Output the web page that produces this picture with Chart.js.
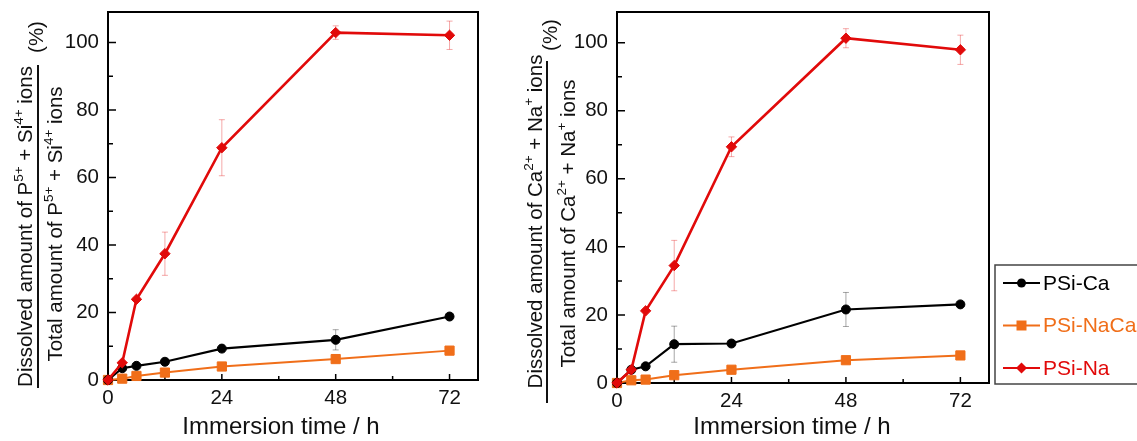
<!DOCTYPE html>
<html>
<head>
<meta charset="utf-8">
<script src="https://cdn.jsdelivr.net/npm/chart.js@4.4.1/dist/chart.umd.min.js"></script>
<style>
  body { margin: 0; background: #fff; width: 1137px; height: 441px; overflow: hidden; position: relative; }
  canvas { position: absolute; top: 0; }
  #leftChart { left: 0; }
  #rightChart { left: 500px; }
</style>
</head>
<body>
<canvas id="leftChart" width="520" height="441"></canvas>
<canvas id="rightChart" width="637" height="441"></canvas>
<script>
const FONT = '"Liberation Sans", Arial, Helvetica, sans-serif';

// sampling times (h) and axis ticks
const hours = [0, 3, 6, 12, 24, 48, 72];
const xTicks = [0, 24, 48, 72];
const xMinorTicks = [12, 36, 60];
const yTicks = [0, 20, 40, 60, 80, 100];
const yMinorTicks = [10, 30, 50, 70, 90];
const seriesNames = ['PSi-Ca', 'PSi-NaCa', 'PSi-Na'];

// dissolved P5+ + Si4+ (% of total)
const pSiCa = [0, 3.5, 4.2, 5.4, 9.3, 11.9, 18.8];
const pSiNaCa = [0, 0.4, 1.2, 2.2, 4.0, 6.2, 8.7];
const pSiNa = [0, 5.1, 23.9, 37.4, 68.8, 102.9, 102.1];
const pSiCaErr = [0, 0, 0, 0, 0, 3.0, 0];
const pSiNaCaErr = [0, 0, 0, 0, 0, 0, 0];
const pSiNaErr = [0, 0, 0, 6.4, 8.3, 2.0, 4.2];

// dissolved Ca2+ + Na+ (% of total)
const caNaCa = [0, 3.9, 4.9, 11.4, 11.6, 21.6, 23.1];
const caNaNaCa = [0, 0.8, 1.0, 2.3, 3.9, 6.7, 8.1];
const caNaNa = [0, 3.9, 21.2, 34.5, 69.4, 101.3, 97.9];
const caNaCaErr = [0, 0, 0, 5.3, 0, 5.0, 0];
const caNaNaCaErr = [0, 0, 0, 0, 0, 0, 0];
const caNaNaErr = [0, 0, 0, 7.4, 2.9, 2.8, 4.3];

const BLACK = '#000000';
const ORANGE = '#f06e19';
const RED = '#e10a0a';

function series(label, values, errors, color, errColor, style, radius, width, order) {
    return {
        label: label,
        data: hours.map((h, i) => ({ x: h, y: values[i] })),
        errors: errors,
        errorColor: errColor,
        borderColor: color,
        backgroundColor: color,
        borderWidth: width,
        pointStyle: style,
        pointRadius: radius,
        pointHoverRadius: radius,
        pointBorderWidth: 1,
        tension: 0,
        clip: false,
        order: order
    };
}

function panelData(ca, naca, na, caErr, nacaErr, naErr) {
    return [
        series(seriesNames[0], ca, caErr, BLACK, 'rgba(0,0,0,0.35)', 'circle', 4.5, 2.2, 1),
        series(seriesNames[1], naca, nacaErr, ORANGE, 'rgba(240,110,25,0.35)', 'rect', 6.5, 2, 2),
        series(seriesNames[2], na, naErr, RED, 'rgba(225,10,10,0.35)', 'rectRot', 5.2, 2.6, 0)
    ];
}

// rotated label made of normal and superscript runs
function drawRotated(ctx, parts, cx, cy, size) {
    ctx.save();
    ctx.translate(cx, cy);
    ctx.rotate(-Math.PI / 2);
    ctx.fillStyle = '#111';
    ctx.textBaseline = 'alphabetic';
    ctx.textAlign = 'left';
    const main = size + 'px ' + FONT;
    const sup = (size * 0.66) + 'px ' + FONT;
    let w = 0;
    parts.forEach(p => { ctx.font = p.sup ? sup : main; w += ctx.measureText(p.t).width; });
    let x = -w / 2;
    parts.forEach(p => {
        ctx.font = p.sup ? sup : main;
        ctx.fillText(p.t, x, p.sup ? -0.08 * size : 0.36 * size);
        x += ctx.measureText(p.t).width;
    });
    ctx.restore();
}

function drawMarker(ctx, style, x, y, r) {
    ctx.beginPath();
    if (style === 'circle') {
        ctx.arc(x, y, r, 0, Math.PI * 2);
    } else if (style === 'rect') {
        ctx.rect(x - r, y - r, 2 * r, 2 * r);
    } else {
        ctx.moveTo(x, y - r); ctx.lineTo(x + r, y); ctx.lineTo(x, y + r); ctx.lineTo(x - r, y);
        ctx.closePath();
    }
    ctx.fill();
}

// box around the plot and inward tick marks
const frameTicks = {
    id: 'frameTicks',
    beforeDatasetsDraw(chart) {
        const { ctx, chartArea: a, scales: { x, y } } = chart;
        ctx.save();
        ctx.strokeStyle = '#000';
        ctx.lineWidth = 2;
        ctx.strokeRect(a.left, a.top, a.right - a.left, a.bottom - a.top);
        ctx.lineWidth = 1.5;
        ctx.beginPath();
        yTicks.forEach(v => { const p = y.getPixelForValue(v); ctx.moveTo(a.left, p); ctx.lineTo(a.left + 8, p); });
        yMinorTicks.forEach(v => { const p = y.getPixelForValue(v); ctx.moveTo(a.left, p); ctx.lineTo(a.left + 5, p); });
        xTicks.forEach(v => { const p = x.getPixelForValue(v); ctx.moveTo(p, a.bottom); ctx.lineTo(p, a.bottom - 6); });
        xMinorTicks.forEach(v => { const p = x.getPixelForValue(v); ctx.moveTo(p, a.bottom); ctx.lineTo(p, a.bottom - 4); });
        ctx.stroke();
        ctx.restore();
    }
};

const errorBars = {
    id: 'errorBars',
    beforeDatasetsDraw(chart) {
        const { ctx, scales: { x, y } } = chart;
        chart.data.datasets.forEach(ds => {
            ctx.save();
            ctx.strokeStyle = ds.errorColor;
            ctx.lineWidth = 1;
            ds.data.forEach((p, i) => {
                const e = ds.errors[i];
                if (!e) return;
                const px = x.getPixelForValue(p.x);
                const top = y.getPixelForValue(p.y + e);
                const bot = y.getPixelForValue(p.y - e);
                ctx.beginPath();
                ctx.moveTo(px, top); ctx.lineTo(px, bot);
                ctx.moveTo(px - 3, top); ctx.lineTo(px + 3, top);
                ctx.moveTo(px - 3, bot); ctx.lineTo(px + 3, bot);
                ctx.stroke();
            });
            ctx.restore();
        });
    }
};

// fraction style y title, "(%)" and the x title
const axisTitles = {
    id: 'axisTitles',
    afterDraw(chart, args, o) {
        const ctx = chart.ctx;
        drawRotated(ctx, o.num, o.numX, o.numY, 20.5);
        drawRotated(ctx, o.den, o.denX, o.denY, 20.5);
        drawRotated(ctx, [{ t: '(%)' }], o.pctX, o.pctY, 20.5);
        ctx.save();
        ctx.strokeStyle = '#111';
        ctx.lineWidth = 2;
        ctx.beginPath();
        ctx.moveTo(o.lineX, o.lineTop);
        ctx.lineTo(o.lineX, o.lineBottom);
        ctx.stroke();
        ctx.fillStyle = '#111';
        ctx.font = '24px ' + FONT;
        ctx.textAlign = 'center';
        ctx.textBaseline = 'middle';
        ctx.fillText('Immersion time / h', o.xTitleX, o.xTitleY);
        ctx.restore();
    }
};

const sideLegend = {
    id: 'sideLegend',
    afterDraw(chart, args, o) {
        if (!o.show) return;
        const ctx = chart.ctx;
        ctx.save();
        ctx.strokeStyle = '#444';
        ctx.lineWidth = 1.5;
        ctx.strokeRect(o.left, o.top, o.width, o.height);
        ctx.font = '21px ' + FONT;
        ctx.textBaseline = 'middle';
        ctx.textAlign = 'left';
        const sizes = { circle: 4.5, rect: 5, rectRot: 5.5 };
        chart.data.datasets.forEach((ds, row) => {
            const yy = o.top + 18 + row * 42.5;
            ctx.strokeStyle = ds.borderColor;
            ctx.fillStyle = ds.borderColor;
            ctx.lineWidth = 2;
            ctx.beginPath();
            ctx.moveTo(o.left + 8, yy);
            ctx.lineTo(o.left + 45, yy);
            ctx.stroke();
            drawMarker(ctx, ds.pointStyle, o.left + 26.5, yy, sizes[ds.pointStyle]);
            ctx.fillText(ds.label, o.left + 48, yy + 1);
        });
        ctx.restore();
    }
};

function makePanel(canvasId, datasets, yAxisWidth, rightPad, xAxisHeight, titles, legend) {
    const tickFont = { family: FONT, size: 20.5 };
    return new Chart(document.getElementById(canvasId), {
        type: 'line',
        data: { datasets: datasets },
        options: {
            responsive: false,
            animation: false,
            devicePixelRatio: 1,
            layout: { padding: { top: 12, right: rightPad, left: 0, bottom: 0 } },
            plugins: {
                legend: { display: false },
                tooltip: { enabled: false },
                axisTitles: titles,
                sideLegend: legend
            },
            scales: {
                x: {
                    type: 'linear',
                    min: 0,
                    max: 78,
                    afterBuildTicks: s => { s.ticks = xTicks.map(v => ({ value: v })); },
                    afterFit: s => {
                        s.height = xAxisHeight;
                        s.paddingLeft = 0;
                        s.paddingRight = 0;
                    },
                    grid: { display: false, drawTicks: false },
                    border: { display: false },
                    ticks: { font: tickFont, color: '#111', padding: 6, maxRotation: 0, autoSkip: false }
                },
                y: {
                    type: 'linear',
                    min: 0,
                    max: 109,
                    afterBuildTicks: s => { s.ticks = yTicks.map(v => ({ value: v })); },
                    afterFit: s => {
                        s.width = yAxisWidth;
                        s.paddingTop = 0;
                        s.paddingBottom = 0;
                    },
                    grid: { display: false, drawTicks: false },
                    border: { display: false },
                    ticks: { font: tickFont, color: '#111', padding: 9, autoSkip: false }
                }
            }
        },
        plugins: [frameTicks, errorBars, axisTitles, sideLegend]
    });
}

makePanel('leftChart', panelData(pSiCa, pSiNaCa, pSiNa, pSiCaErr, pSiNaCaErr, pSiNaErr), 108, 42, 61, {
    num: [{ t: 'Dissolved amount of P' }, { t: '5+', sup: true }, { t: ' + Si' }, { t: '4+', sup: true }, { t: ' ions' }],
    den: [{ t: 'Total amount of P' }, { t: '5+', sup: true }, { t: ' + Si' }, { t: '4+', sup: true }, { t: ' ions' }],
    numX: 24.5, numY: 226.5, denX: 54.5, denY: 224,
    lineX: 38, lineTop: 65, lineBottom: 388,
    pctX: 36, pctY: 37,
    xTitleX: 281, xTitleY: 427
}, { show: false });

makePanel('rightChart', panelData(caNaCa, caNaNaCa, caNaNa, caNaCaErr, caNaNaCaErr, caNaNaErr), 117, 148, 58, {
    num: [{ t: 'Dissolved amount of Ca' }, { t: '2+', sup: true }, { t: ' + Na' }, { t: '+', sup: true }, { t: ' ions' }],
    den: [{ t: 'Total amount of Ca' }, { t: '2+', sup: true }, { t: ' + Na' }, { t: '+', sup: true }, { t: ' ions' }],
    numX: 34.5, numY: 221.5, denX: 67.5, denY: 223.5,
    lineX: 47, lineTop: 61, lineBottom: 403,
    pctX: 49.5, pctY: 35,
    xTitleX: 292, xTitleY: 427
}, { show: true, left: 495, top: 265, width: 160, height: 119 });
</script>
</body>
</html>
